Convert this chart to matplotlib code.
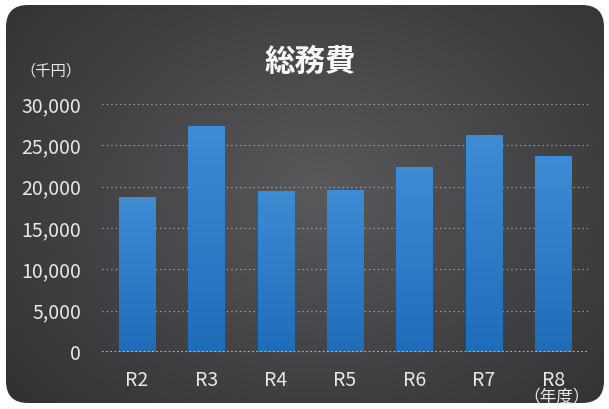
import numpy as np
import matplotlib.pyplot as plt
from matplotlib.patches import FancyBboxPatch
from matplotlib.ticker import FuncFormatter

plt.rcParams['font.family'] = ['Noto Sans CJK JP', 'DejaVu Sans']

# data
years = ['R2', 'R3', 'R4', 'R5', 'R6', 'R7', 'R8']
costs = [18800, 27300, 19500, 19600, 22400, 26200, 23700]
yticks = [0, 5000, 10000, 15000, 20000, 25000, 30000]

fig = plt.figure(figsize=(6.09, 4.09), dpi=100)
fig.patch.set_facecolor('white')

# dark rounded panel with a soft radial gradient
bg = fig.add_axes([0, 0, 1, 1])
panel = FancyBboxPatch((6, 5), 598, 398, boxstyle='round,pad=0,rounding_size=22',
                       facecolor='none', edgecolor='none')
bg.add_patch(panel)
yy, xx = np.mgrid[0:409, 0:609]
r = np.sqrt(((xx - 320) / 420.0) ** 2 + ((yy - 190) / 320.0) ** 2)
shade = np.clip(1 - r, 0, 1)
lo = np.array([0.19, 0.19, 0.20])
hi = np.array([0.35, 0.35, 0.36])
img = lo + (hi - lo) * shade[..., None]
im = bg.imshow(img, extent=(0, 609, 409, 0), aspect='auto', interpolation='bilinear', zorder=2)
im.set_clip_path(panel)
bg.set_xlim(0, 609)
bg.set_ylim(409, 0)
bg.axis('off')

txt = '#e8e8e8'
bg.text(310, 62, '総務費', color='#f6f6f6', fontsize=22, fontweight='bold',
        ha='center', va='center', zorder=3)
bg.text(51, 71, '（千円）', color=txt, fontsize=11, ha='center', va='center', zorder=3)
bg.text(557, 398, '（年度）', color=txt, fontsize=12, ha='center', va='center', zorder=3)

# main chart
ax = fig.add_axes([102 / 609, 1 - 352 / 409, 486 / 609, 248 / 409])
ax.patch.set_alpha(0)
x = np.arange(len(years))
bars = ax.bar(x, costs, width=0.52, color='#2f7dc8', zorder=3)
grad = np.linspace(0, 1, 256)[:, None]
cmap = plt.matplotlib.colors.LinearSegmentedColormap.from_list('b', ['#1f6db9', '#3e8cd4'])
for b in bars:
    gi = ax.imshow(grad, cmap=cmap, origin='lower', aspect='auto', zorder=4,
                   extent=(b.get_x(), b.get_x() + b.get_width(), 0, b.get_height()))
    gi.set_clip_path(b)

ax.set_xlim(-0.5, 6.5)
ax.set_ylim(0, 30000)
ax.set_yticks(yticks)
ax.yaxis.set_major_formatter(FuncFormatter(lambda v, p: f'{int(v):,}'))
ax.set_xticks(x)
ax.set_xticklabels(years)
ax.grid(axis='y', color='#b8b8b8', linestyle=(0, (1, 3)), linewidth=0.8, zorder=1)
ax.axhline(0, color='#cfcfcf', linestyle=(0, (1, 1.5)), linewidth=1.2, zorder=5)
for s in ax.spines.values():
    s.set_visible(False)
ax.tick_params(length=0, colors=txt, labelsize=14)
ax.tick_params(axis='x', pad=13)
ax.tick_params(axis='y', pad=15)

fig.savefig('out.png', dpi=100, facecolor='white')
